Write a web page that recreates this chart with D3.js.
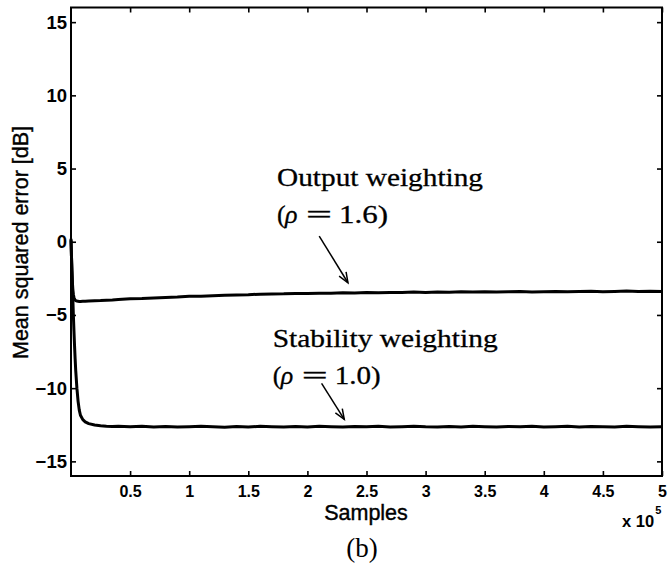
<!DOCTYPE html>
<html><head><meta charset="utf-8">
<script src="https://cdn.jsdelivr.net/npm/d3@7"></script>
<style>body{margin:0;background:#fff}svg{display:block}</style>
</head><body>
<script>
// ---- data (x in units of 1e5 samples, y in dB) ----
const sampleX = [0,0.004,0.008,0.012,0.016,0.02,0.025,0.03,0.035,0.04,0.05,0.06,0.07,0.08,0.1,0.12,0.15,0.2,0.25,0.3,0.35,0.4,
 0.5,0.6,0.7,0.8,0.9,1.0,1.1,1.2,1.3,1.4,1.5,1.6,1.7,1.8,1.9,2.0,2.1,2.2,2.3,2.4,2.5,2.6,2.7,2.8,2.9,3.0,
 3.1,3.2,3.3,3.4,3.5,3.6,3.7,3.8,3.9,4.0,4.1,4.2,4.3,4.4,4.5,4.6,4.7,4.8,4.9,5.0];
const outputMSE = [0.2,-1.0,-2.0,-2.8,-3.3,-3.6,-3.8,-3.92,-3.98,-4.02,-4.05,-4.07,-4.08,-4.08,-4.07,-4.06,-4.05,-4.03,-4.02,-4.0,-3.98,-3.95,
 -3.9,-3.88,-3.84,-3.8,-3.78,-3.73,-3.72,-3.68,-3.66,-3.63,-3.62,-3.58,-3.57,-3.56,-3.53,-3.54,-3.51,-3.52,-3.49,-3.5,-3.47,-3.49,-3.46,-3.47,-3.44,-3.46,
 -3.43,-3.45,-3.42,-3.44,-3.41,-3.43,-3.42,-3.4,-3.43,-3.41,-3.39,-3.42,-3.4,-3.38,-3.41,-3.39,-3.37,-3.4,-3.38,-3.39];
const stabilityMSE = [0.1,-1.0,-2.0,-3.0,-4.0,-5.0,-6.1,-7.1,-8.0,-8.8,-10.0,-10.9,-11.5,-11.85,-12.15,-12.3,-12.42,-12.52,-12.57,-12.6,-12.62,-12.61,
 -12.63,-12.6,-12.65,-12.62,-12.66,-12.63,-12.6,-12.64,-12.67,-12.62,-12.65,-12.61,-12.64,-12.66,-12.62,-12.65,-12.6,-12.63,-12.66,-12.62,-12.64,-12.61,-12.65,-12.63,-12.6,-12.64,
 -12.66,-12.62,-12.65,-12.61,-12.63,-12.66,-12.62,-12.64,-12.6,-12.65,-12.63,-12.61,-12.66,-12.62,-12.64,-12.65,-12.61,-12.63,-12.66,-12.64];
const xTicks = [0.5,1,1.5,2,2.5,3,3.5,4,4.5,5];
const xTickLabels = ["0.5","1","1.5","2","2.5","3","3.5","4","4.5","5"];
const yTicks = [-15,-10,-5,0,5,10,15];
const seriesNames = ["Output weighting","Stability weighting"];
const rhoValues = ["1.6","1.0"];
// annotation anchors in data coords: [textX, textY, arrowStartX, arrowStartY, arrowEndX, arrowEndY]
const annotAnchors = [[1.743,3.81,2.1,0.39,2.343,-2.8],[1.706,-7.17,2.12,-9.67,2.312,-12.13]];

const W=669,H=565;
const m={l:71,r:662,t:7.5,b:476};
const svg=d3.select("body").append("svg").attr("width",W).attr("height",H);
const x=d3.scaleLinear().domain([0,5]).range([m.l,m.r]);
const y=d3.scaleLinear().domain([-16,16]).range([m.b,m.t]);
const sans="'Liberation Sans', Arial, Helvetica, sans-serif";
const serif="'Liberation Serif', 'Times New Roman', serif";

const tickLen=5;
const gb=svg.append("g").attr("transform",`translate(0,${m.b})`)
  .call(d3.axisBottom(x).tickValues(xTicks).tickSizeInner(-tickLen).tickSizeOuter(0).tickPadding(10).tickFormat((d,i)=>xTickLabels[i]));
const gt=svg.append("g").attr("transform",`translate(0,${m.t})`)
  .call(d3.axisTop(x).tickValues(xTicks).tickSizeInner(-tickLen).tickSizeOuter(0).tickFormat(""));
const gl=svg.append("g").attr("transform",`translate(${m.l},0)`)
  .call(d3.axisLeft(y).tickValues(yTicks).tickSizeInner(-tickLen).tickSizeOuter(0).tickPadding(4).tickFormat(d=>d<0?"\u2212"+Math.abs(d):d));
const gr=svg.append("g").attr("transform",`translate(${m.r},0)`)
  .call(d3.axisRight(y).tickValues(yTicks).tickSizeInner(-tickLen).tickSizeOuter(0).tickFormat(""));
[gb,gt,gl,gr].forEach(g=>{g.select(".domain").remove();g.selectAll("line").attr("stroke","#000").attr("stroke-width",1.6);});
gb.selectAll("text").attr("font-family",sans).attr("font-size",16).attr("font-weight","bold").attr("fill","#000").attr("dy","0.71em");
gl.selectAll("text").attr("font-family",sans).attr("font-size",18.5).attr("font-weight","bold").attr("fill","#000");

// lines
const line=d3.line().x(d=>x(d[0])).y(d=>y(d[1]));
[outputMSE,stabilityMSE].forEach(s=>{
  svg.append("path").datum(sampleX.map((v,i)=>[v,s[i]])).attr("d",line)
    .attr("fill","none").attr("stroke","#000").attr("stroke-width",3).attr("stroke-linejoin","round");
});

// box
svg.append("rect").attr("x",m.l).attr("y",m.t).attr("width",m.r-m.l).attr("height",m.b-m.t)
  .attr("fill","none").attr("stroke","#000").attr("stroke-width",2);

// annotations
const nameLen=[206,225];
annotAnchors.forEach((a,i)=>{
  const tx=x(a[0]), ty=y(a[1]);
  svg.append("text").attr("x",tx).attr("y",ty).attr("font-family",serif).attr("font-size",26)
    .attr("textLength",nameLen[i]).attr("lengthAdjust","spacingAndGlyphs")
    .attr("fill","#000").attr("stroke","#000").attr("stroke-width",0.3).text(seriesNames[i]);
  const ry=ty+37.5;
  const g=svg.append("g").attr("font-family",serif).attr("font-size",26).attr("fill","#000").attr("stroke","#000").attr("stroke-width",0.3);
  g.append("text").attr("x",tx).attr("y",ry).text("(");
  g.append("text").attr("x",tx+8).attr("y",ry).attr("font-style","italic").text("\u03C1");
  g.append("text").attr("x",tx+29).attr("y",ry).attr("textLength",26).attr("lengthAdjust","spacingAndGlyphs").text("=");
  g.append("text").attr("x",tx+62).attr("y",ry).attr("textLength",i===0?49:46).attr("lengthAdjust","spacingAndGlyphs").text(rhoValues[i]+")");
  const x1=x(a[2]),y1=y(a[3]),x2=x(a[4]),y2=y(a[5]);
  svg.append("line").attr("x1",x1).attr("y1",y1).attr("x2",x2).attr("y2",y2).attr("stroke","#000").attr("stroke-width",1.5);
  const ang=Math.atan2(y2-y1,x2-x1), L=11, s=0.38;
  const p=[[x2-L*Math.cos(ang-s),y2-L*Math.sin(ang-s)],[x2,y2],[x2-L*Math.cos(ang+s),y2-L*Math.sin(ang+s)]];
  svg.append("path").attr("d",d3.line()(p)).attr("fill","none").attr("stroke","#000").attr("stroke-width",1.5);
});

// axis labels
svg.append("text").attr("x",366).attr("y",520).attr("text-anchor","middle").attr("font-family",sans)
  .attr("font-size",21.5).attr("fill","#000").attr("stroke","#000").attr("stroke-width",0.4).text("Samples");
svg.append("text").attr("transform","translate(28,242.5) rotate(-90)").attr("text-anchor","middle").attr("font-family",sans)
  .attr("font-size",21.5).attr("fill","#000").attr("stroke","#000").attr("stroke-width",0.4).text("Mean squared error [dB]");
const ex=svg.append("text").attr("x",622).attr("y",527).attr("font-family",sans).attr("font-size",16.5).attr("font-weight","bold").attr("fill","#000");
ex.append("tspan").text("x 10");
ex.append("tspan").attr("dx",1).attr("dy",-13).attr("font-size",11).text("5");
svg.append("text").attr("x",362).attr("y",557).attr("text-anchor","middle").attr("font-family",serif)
  .attr("font-size",27).attr("fill","#000").text("(b)");
</script>
</body></html>
